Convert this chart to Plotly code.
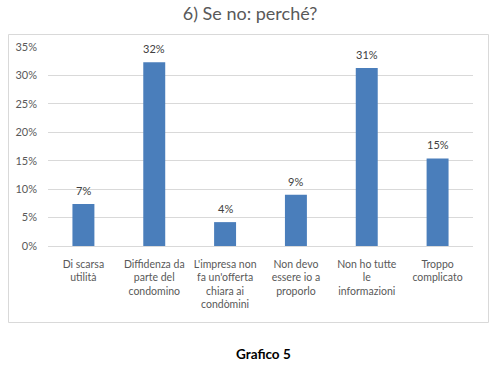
import plotly.graph_objects as go

categories = [
    "Di scarsa<br>utilità",
    "Diffidenza da<br>parte del<br>condomino",
    "L'impresa non<br>fa un'offerta<br>chiara ai<br>condòmini",
    "Non devo<br>essere io a<br>proporlo",
    "Non ho tutte<br>le<br>informazioni",
    "Troppo<br>complicato",
]
values = [0.074, 0.323, 0.042, 0.090, 0.313, 0.154]
y_ticks = [0, 0.05, 0.10, 0.15, 0.20, 0.25, 0.30, 0.35]
y_tick_labels = ["0%", "5%", "10%", "15%", "20%", "25%", "30%", "35%"]

FONT = "Lato, 'Liberation Sans', sans-serif"
GREY = "#595959"

W, H = 501, 372
# plot area in page pixels: x 48..473, y 47..246
L, T = 48, 47
R = W - 473
B = H - 246

fig = go.Figure(
    go.Bar(
        x=categories,
        y=values,
        marker=dict(color="#4a7ebb", line=dict(width=0)),
        width=0.31,
        hoverinfo="skip",
    )
)

for c, v in zip(categories, values):
    fig.add_annotation(
        x=c, y=v, xref="x", yref="y",
        text=f"{round(v*100)}%",
        showarrow=False,
        yanchor="bottom",
        yshift=5,
        font=dict(family=FONT, size=11, color="#404040"),
    )

fig.update_layout(
    width=W,
    height=H,
    margin=dict(l=L, r=R, t=T, b=B, autoexpand=False),
    paper_bgcolor="white",
    plot_bgcolor="white",
    showlegend=False,
    font=dict(family=FONT, size=11, color=GREY),
    title=dict(
        text="6) Se no: perché?",
        x=250 / W,
        xref="container",
        xanchor="center",
        y=1 - 14 / H,
        yref="container",
        yanchor="middle",
        font=dict(family=FONT, size=18, color=GREY),
    ),
    xaxis=dict(
        showgrid=False,
        showline=False,
        ticks="",
        ticklabelstandoff=10,
        tickfont=dict(family=FONT, size=10.5, color=GREY),
        fixedrange=True,
    ),
    yaxis=dict(
        range=[0, 0.35],
        tickvals=y_ticks,
        ticktext=y_tick_labels,
        showgrid=True,
        gridcolor="#d9d9d9",
        gridwidth=1,
        zeroline=True,
        zerolinecolor="#d9d9d9",
        zerolinewidth=1,
        showline=False,
        ticks="",
        ticklabelstandoff=10,
        tickfont=dict(family=FONT, size=11, color=GREY),
        fixedrange=True,
    ),
)

pw, ph = W - L - R, H - T - B
def px_x(x):
    return (x - L) / pw
def px_y(y):
    return 1 - (y - T) / ph

fig.add_shape(
    type="rect",
    xref="paper", yref="paper",
    x0=px_x(8.5), x1=px_x(488.5), y0=px_y(322.5), y1=px_y(34.5),
    line=dict(color="#d9d9d9", width=1),
    fillcolor="rgba(0,0,0,0)",
    layer="below",
)

fig.add_annotation(
    text="<b>Grafico 5</b>",
    xref="paper", yref="paper",
    x=px_x(263), y=px_y(354),
    showarrow=False,
    xanchor="center", yanchor="middle",
    font=dict(family=FONT, size=13.5, color="black"),
)

fig.write_html(
    "out.html",
    config={"displayModeBar": False, "staticPlot": True},
    post_script="document.body.style.margin='0';",
)
